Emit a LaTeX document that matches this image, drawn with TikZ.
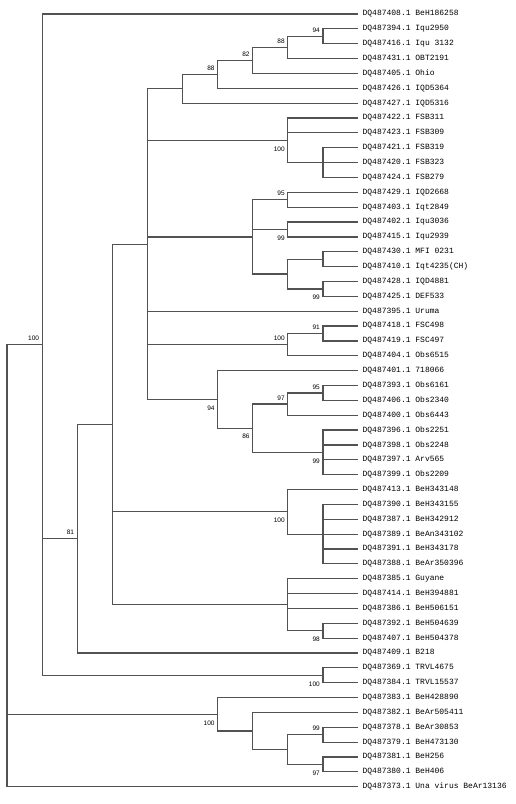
\documentclass[tikz,border=0pt]{standalone}
\usepackage{fontspec}
\usepackage{tikz}
\usetikzlibrary{positioning}
\usetikzlibrary{calc}
\newfontfamily\treemono{Liberation Mono}
\newfontfamily\treesans{Liberation Sans}
\tikzset{every picture/.style={line width=1.2pt},
  leaf/.style={inner xsep=4pt, inner ysep=1pt, font=\treemono\fontsize{8}{9}\selectfont},
  branch/.style={draw=black!68},
  boot/.style={inner sep=0pt, anchor=east, xshift=-2.5pt, font=\treesans\fontsize{6.5}{7}\selectfont},
  bsup/.style={boot, yshift=6pt},
  bsdown/.style={boot, yshift=-8.5pt}}

\begin{document}
\begin{tikzpicture}[x=1pt, y=1pt]
\useasboundingbox (0,0) rectangle (515,-804);

\node (q408) [leaf, anchor=west] at (358,-14) {DQ487408.1 BeH186258};
\node (q394) [leaf, below=14.86pt of q408.west, anchor=west] {DQ487394.1 Iqu2950};
\node (q416) [leaf, below=14.86pt of q394.west, anchor=west] {DQ487416.1 Iqu 3132};
\node (q431) [leaf, below=14.86pt of q416.west, anchor=west] {DQ487431.1 OBT2191};
\node (q405) [leaf, below=14.86pt of q431.west, anchor=west] {DQ487405.1 Ohio};
\node (q426) [leaf, below=14.86pt of q405.west, anchor=west] {DQ487426.1 IQD5364};
\node (q427) [leaf, below=14.86pt of q426.west, anchor=west] {DQ487427.1 IQD5316};
\node (q422) [leaf, below=14.86pt of q427.west, anchor=west] {DQ487422.1 FSB311};
\node (q423) [leaf, below=14.86pt of q422.west, anchor=west] {DQ487423.1 FSB309};
\node (q421) [leaf, below=14.86pt of q423.west, anchor=west] {DQ487421.1 FSB319};
\node (q420) [leaf, below=14.86pt of q421.west, anchor=west] {DQ487420.1 FSB323};
\node (q424) [leaf, below=14.86pt of q420.west, anchor=west] {DQ487424.1 FSB279};
\node (q429) [leaf, below=14.86pt of q424.west, anchor=west] {DQ487429.1 IQD2668};
\node (q403) [leaf, below=14.86pt of q429.west, anchor=west] {DQ487403.1 Iqt2849};
\node (q402) [leaf, below=14.86pt of q403.west, anchor=west] {DQ487402.1 Iqu3036};
\node (q415) [leaf, below=14.86pt of q402.west, anchor=west] {DQ487415.1 Iqu2939};
\node (q430) [leaf, below=14.86pt of q415.west, anchor=west] {DQ487430.1 MFI 0231};
\node (q410) [leaf, below=14.86pt of q430.west, anchor=west] {DQ487410.1 Iqt4235(CH)};
\node (q428) [leaf, below=14.86pt of q410.west, anchor=west] {DQ487428.1 IQD4881};
\node (q425) [leaf, below=14.86pt of q428.west, anchor=west] {DQ487425.1 DEF533};
\node (q395) [leaf, below=14.86pt of q425.west, anchor=west] {DQ487395.1 Uruma};
\node (q418) [leaf, below=14.86pt of q395.west, anchor=west] {DQ487418.1 FSC498};
\node (q419) [leaf, below=14.86pt of q418.west, anchor=west] {DQ487419.1 FSC497};
\node (q404) [leaf, below=14.86pt of q419.west, anchor=west] {DQ487404.1 Obs6515};
\node (q401) [leaf, below=14.86pt of q404.west, anchor=west] {DQ487401.1 718066};
\node (q393) [leaf, below=14.86pt of q401.west, anchor=west] {DQ487393.1 Obs6161};
\node (q406) [leaf, below=14.86pt of q393.west, anchor=west] {DQ487406.1 Obs2340};
\node (q400) [leaf, below=14.86pt of q406.west, anchor=west] {DQ487400.1 Obs6443};
\node (q396) [leaf, below=14.86pt of q400.west, anchor=west] {DQ487396.1 Obs2251};
\node (q398) [leaf, below=14.86pt of q396.west, anchor=west] {DQ487398.1 Obs2248};
\node (q397) [leaf, below=14.86pt of q398.west, anchor=west] {DQ487397.1 Arv565};
\node (q399) [leaf, below=14.86pt of q397.west, anchor=west] {DQ487399.1 Obs2209};
\node (q413) [leaf, below=14.86pt of q399.west, anchor=west] {DQ487413.1 BeH343148};
\node (q390) [leaf, below=14.86pt of q413.west, anchor=west] {DQ487390.1 BeH343155};
\node (q387) [leaf, below=14.86pt of q390.west, anchor=west] {DQ487387.1 BeH342912};
\node (q389) [leaf, below=14.86pt of q387.west, anchor=west] {DQ487389.1 BeAn343102};
\node (q391) [leaf, below=14.86pt of q389.west, anchor=west] {DQ487391.1 BeH343178};
\node (q388) [leaf, below=14.86pt of q391.west, anchor=west] {DQ487388.1 BeAr350396};
\node (q385) [leaf, below=14.86pt of q388.west, anchor=west] {DQ487385.1 Guyane};
\node (q414) [leaf, below=14.86pt of q385.west, anchor=west] {DQ487414.1 BeH394881};
\node (q386) [leaf, below=14.86pt of q414.west, anchor=west] {DQ487386.1 BeH506151};
\node (q392) [leaf, below=14.86pt of q386.west, anchor=west] {DQ487392.1 BeH504639};
\node (q407) [leaf, below=14.86pt of q392.west, anchor=west] {DQ487407.1 BeH504378};
\node (q409) [leaf, below=14.86pt of q407.west, anchor=west] {DQ487409.1 B218};
\node (q369) [leaf, below=14.86pt of q409.west, anchor=west] {DQ487369.1 TRVL4675};
\node (q384) [leaf, below=14.86pt of q369.west, anchor=west] {DQ487384.1 TRVL15537};
\node (q383) [leaf, below=14.86pt of q384.west, anchor=west] {DQ487383.1 BeH428890};
\node (q382) [leaf, below=14.86pt of q383.west, anchor=west] {DQ487382.1 BeAr505411};
\node (q378) [leaf, below=14.86pt of q382.west, anchor=west] {DQ487378.1 BeAr30853};
\node (q379) [leaf, below=14.86pt of q378.west, anchor=west] {DQ487379.1 BeH473130};
\node (q381) [leaf, below=14.86pt of q379.west, anchor=west] {DQ487381.1 BeH256};
\node (q380) [leaf, below=14.86pt of q381.west, anchor=west] {DQ487380.1 BeH406};
\node (q373) [leaf, below=14.86pt of q380.west, anchor=west] {DQ487373.1 Una virus BeAr13136};

\coordinate (root) at (7,-565.68);
\coordinate (a42) at (42.1,-344.64);
\coordinate (a81) at (77.2,-538.69);
\coordinate (a112) at (112.3,-424.39);
\coordinate (a148) at (147.4,-244.1);
\coordinate (a183) at (182.5,-88.77);
\coordinate (a218) at (217.6,-74.37);
\coordinate (a253) at (252.7,-60.44);
\coordinate (a289) at (287.8,-47.44);
\coordinate (iqu) at (322.9,-36.29);
\coordinate (fsb) at (287.8,-140.31);
\coordinate (fsb2) at (322.9,-162.6);
\coordinate (b253) at (252.7,-236.9);
\coordinate (b95) at (287.8,-199.75);
\coordinate (b99) at (287.8,-229.47);
\coordinate (b289) at (287.8,-274.05);
\coordinate (mfi) at (322.9,-259.19);
\coordinate (def) at (322.9,-288.91);
\coordinate (fsc) at (287.8,-344.64);
\coordinate (fsc2) at (322.9,-333.49);
\coordinate (c94) at (217.6,-399.43);
\coordinate (c86) at (252.7,-428.22);
\coordinate (c97) at (287.8,-404.08);
\coordinate (c95) at (322.9,-392.93);
\coordinate (c99) at (322.9,-452.37);
\coordinate (beh) at (287.8,-511.81);
\coordinate (beh2) at (322.9,-534.1);
\coordinate (guy) at (287.8,-604.69);
\coordinate (guy98) at (322.9,-630.69);
\coordinate (trvl) at (322.9,-675.27);
\coordinate (d100) at (217.6,-714.28);
\coordinate (d253) at (252.7,-731.0);
\coordinate (d289) at (287.8,-749.57);
\coordinate (d99) at (322.9,-734.71);
\coordinate (d97) at (322.9,-764.43);

\draw[branch] (root) |- (a42) (root) |- (d100) (root) |- (q373.west);
\draw[branch] (a42) |- (q408.west) (a42) |- (a81) (a42) |- (trvl);
\draw[branch] (a81) |- (a112) (a81) |- (q409.west);
\draw[branch] (a112) |- (a148) (a112) |- (beh) (a112) |- (guy);
\draw[branch] (a148) |- (a183) (a148) |- (fsb) (a148) |- (b253) (a148) |- (q395.west) (a148) |- (fsc) (a148) |- (c94);
\draw[branch] (a183) |- (a218) (a183) |- (q427.west);
\draw[branch] (a218) |- (a253) (a218) |- (q426.west);
\draw[branch] (a253) |- (a289) (a253) |- (q405.west);
\draw[branch] (a289) |- (iqu) (a289) |- (q431.west);
\draw[branch] (iqu) |- (q394.west) (iqu) |- (q416.west);
\draw[branch] (fsb) |- (q422.west) (fsb) |- (q423.west) (fsb) |- (fsb2);
\draw[branch] (fsb2) |- (q421.west) (fsb2) |- (q420.west) (fsb2) |- (q424.west);
\draw[branch] (b253) |- (b95) (b253) |- (b99) (b253) |- (b289);
\draw[branch] (b95) |- (q429.west) (b95) |- (q403.west);
\draw[branch] (b99) |- (q402.west) (b99) |- (q415.west);
\draw[branch] (b289) |- (mfi) (b289) |- (def);
\draw[branch] (mfi) |- (q430.west) (mfi) |- (q410.west);
\draw[branch] (def) |- (q428.west) (def) |- (q425.west);
\draw[branch] (fsc) |- (fsc2) (fsc) |- (q404.west);
\draw[branch] (fsc2) |- (q418.west) (fsc2) |- (q419.west);
\draw[branch] (c94) |- (q401.west) (c94) |- (c86);
\draw[branch] (c86) |- (c97) (c86) |- (c99);
\draw[branch] (c97) |- (c95) (c97) |- (q400.west);
\draw[branch] (c95) |- (q393.west) (c95) |- (q406.west);
\draw[branch] (c99) |- (q396.west) (c99) |- (q398.west) (c99) |- (q397.west) (c99) |- (q399.west);
\draw[branch] (beh) |- (q413.west) (beh) |- (beh2);
\draw[branch] (beh2) |- (q390.west) (beh2) |- (q387.west) (beh2) |- (q389.west) (beh2) |- (q391.west) (beh2) |- (q388.west);
\draw[branch] (guy) |- (q385.west) (guy) |- (q414.west) (guy) |- (q386.west) (guy) |- (guy98);
\draw[branch] (guy98) |- (q392.west) (guy98) |- (q407.west);
\draw[branch] (trvl) |- (q369.west) (trvl) |- (q384.west);
\draw[branch] (d100) |- (q383.west) (d100) |- (d253);
\draw[branch] (d253) |- (q382.west) (d253) |- (d289);
\draw[branch] (d289) |- (d99) (d289) |- (d97);
\draw[branch] (d99) |- (q378.west) (d99) |- (q379.west);
\draw[branch] (d97) |- (q381.west) (d97) |- (q380.west);

\node (s42) [bsup] at (a42) {100};
\node (s81) [bsup] at (a81) {81};
\node (s218) [bsup] at (a218) {88};
\node (s253) [bsup] at (a253) {82};
\node (s289) [bsup] at (a289) {88};
\node (siqu) [bsup] at (iqu) {94};
\node (sfsb) [bsdown] at (fsb) {100};
\node (sb95) [bsup] at (b95) {95};
\node (sb99) [bsdown] at (b99) {99};
\node (sdef) [bsdown] at (def) {99};
\node (sfsc) [bsup] at (fsc) {100};
\node (sfsc2) [bsup] at (fsc2) {91};
\node (sc94) [bsdown] at (c94) {94};
\node (sc86) [bsdown] at (c86) {86};
\node (sc97) [bsup] at (c97) {97};
\node (sc95) [bsup] at (c95) {95};
\node (sc99) [bsdown] at (c99) {99};
\node (sbeh) [bsdown] at (beh) {100};
\node (sguy98) [bsdown] at (guy98) {98};
\node (strvl) [bsdown] at (trvl) {100};
\node (sd100) [bsdown] at (d100) {100};
\node (sd99) [bsup] at (d99) {99};
\node (sd97) [bsdown] at (d97) {97};
\end{tikzpicture}
\end{document}
